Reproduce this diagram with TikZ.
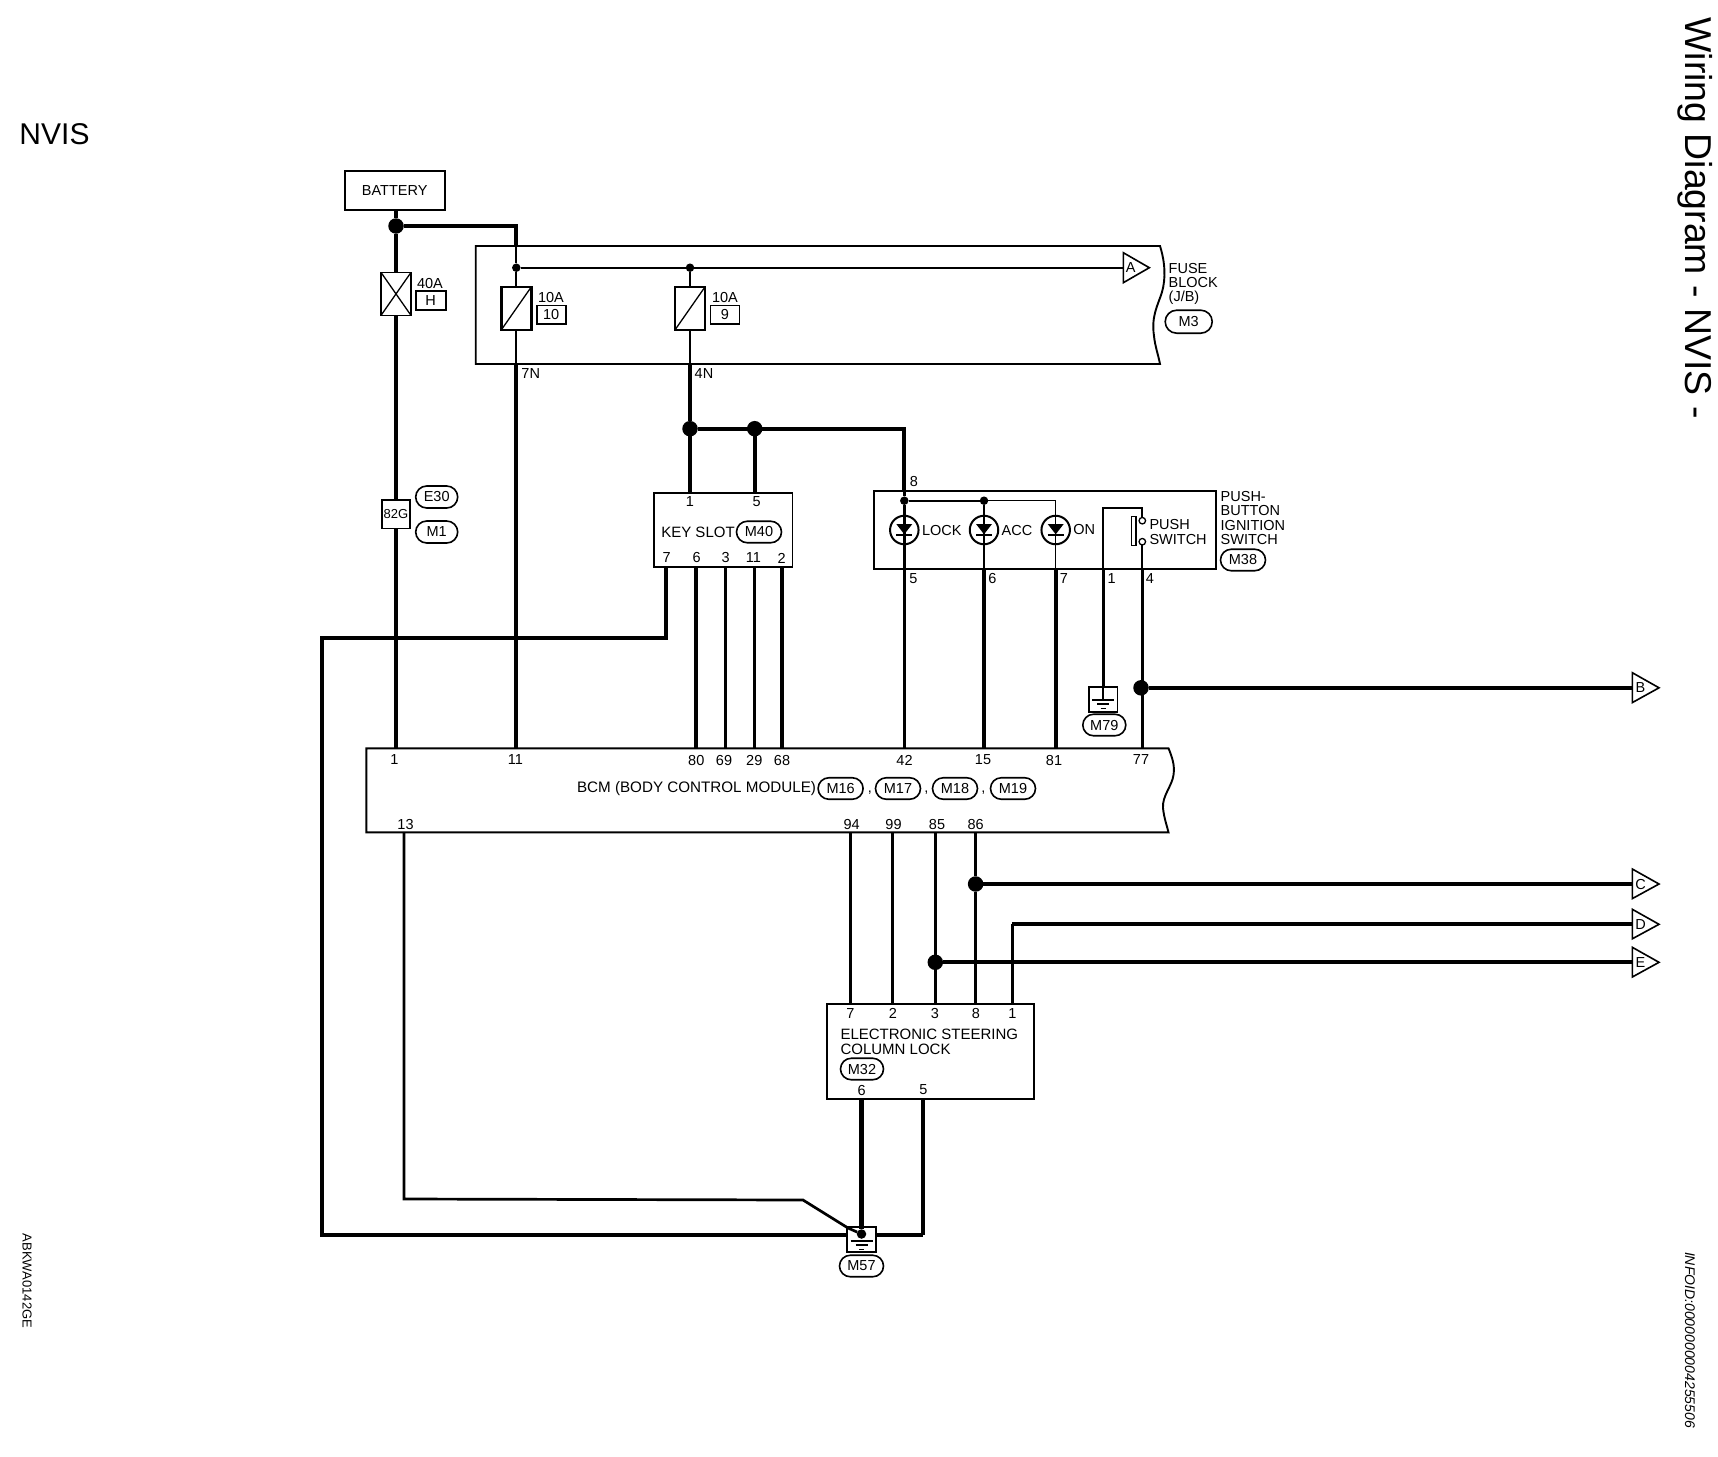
\documentclass[tikz,border=0pt]{standalone}
\usepackage{fontspec}
\setmainfont{Liberation Sans}
\usetikzlibrary{shapes.misc}
\tikzset{
  every node/.style={font=\fontsize{14.5}{14.2}\selectfont,inner sep=0pt,outer sep=0pt,align=left},
  wa/.style={line width=4.2pt,line join=miter},
  wb/.style={line width=3.4pt,line join=miter},
  wc/.style={line width=2.7pt,line join=miter},
  wd/.style={line width=2pt,line join=miter},
  we/.style={line width=1.4pt,line join=miter},
  boxa/.style={draw,line width=1.7pt,rectangle},
  outline/.style={draw,line width=1.9pt,line join=miter},
  conn/.style={draw,rounded rectangle,line width=1.6pt,minimum width=45pt,minimum height=21.5pt},
  fuse/.style={draw,rectangle,line width=2.4pt,minimum width=30pt,minimum height=43pt},
  fuseno/.style={draw,rectangle,line width=1.8pt,minimum width=29pt,minimum height=18.5pt},
  jbig/.style={circle,fill=black,minimum size=15.5pt},
  jsmall/.style={circle,fill=black,minimum size=8.5pt},
  ledc/.style={draw,circle,line width=2pt,minimum size=28.5pt},
  gbox/.style={draw,rectangle,line width=1.7pt,minimum width=28.5pt,minimum height=25pt},
  termc/.style={draw,circle,line width=1.3pt,minimum size=6.5pt},
  offpage/.style={draw,line width=1.6pt,fill=white,line join=miter},
}
\newcommand{\ledmark}[1]{\fill[shift={(#1)}] (-8,-6) -- (8,-6) -- (0,4.3) -- cycle;
  \draw[shift={(#1)},line width=2pt] (-8,5.2) -- (8,5.2);}
\newcommand{\gndmark}[1]{\draw[shift={(#1)},line width=1.7pt] (-11,0) -- (11,0) (-6,4.3) -- (6,4.3) (-2.5,8.6) -- (2.5,8.6);}
\begin{document}
\begin{tikzpicture}[x=1pt,y=-1pt]
\useasboundingbox (0,0) rectangle (1718,1456);
% ---- page texts
\node[font=\fontsize{30}{30}\selectfont,anchor=west] (nvis) at (19.5,134) {NVIS};
\node[font=\fontsize{37.4}{37}\selectfont,rotate=-90,anchor=base west] (title) at (1685,17.5) {Wiring Diagram - NVIS -};
\node[font=\fontsize{13}{13}\selectfont,rotate=-90] (abk) at (27,1281) {ABKWA0142GE};
\node[font=\fontsize{14}{14}\selectfont\itshape,rotate=-90] (info) at (1690,1340) {INFOID:0000000004255506};
% ---- boxes
\node[boxa,minimum width=100pt,minimum height=39.5pt] (batt) at (394.7,190.4) {BATTERY};
% fuse block
\coordinate (fbnw) at (475.7,246);
\coordinate (fbne) at (1160,246);
\coordinate (fbse) at (1160,364);
\coordinate (fbsw) at (475.7,364);
\draw[outline] (fbsw) -- (fbnw) -- (fbne)
   .. controls (1165,262) and (1166,278) .. (1162,292)
   .. controls (1158,305) and (1151,316) .. (1154,336)
   .. controls (1155,346) and (1158,354) .. (fbse) -- cycle;
\node[anchor=west] (fbl) at (1168.7,284) {FUSE\\BLOCK\\(J/B)};
\node[conn,minimum width=47pt,minimum height=23pt] (m3) at (1188.7,321.7) {M3};
\node[fuse,line width=1.8pt] (f40) at (396,293.9) {};
\draw[line width=1.3pt] (f40.north west) -- (f40.south east) (f40.north east) -- (f40.south west);
\node (t40) at (430,284) {40A};
\node[fuseno,minimum width=30pt] (h) at (430.7,300.5) {H};
\node[fuse] (f10) at (516.3,308.4) {};
\draw[line width=1.3pt] (f10.south west) -- (f10.north east);
\node (t10a) at (551,298) {10A};
\node[fuseno] (no10) at (551.2,314.8) {10};
\node[fuse] (f9) at (690,308.4) {};
\draw[line width=1.3pt] (f9.south west) -- (f9.north east);
\node (t9a) at (725,298) {10A};
\node[fuseno] (no9) at (725,314.8) {9};
\node (l7n) at (530.7,374) {7N};
\node (l4n) at (704,374) {4N};
% off page connectors
\coordinate (apin) at (1123.3,267.7);
\draw[offpage] (1123.3,252.7) -- (1149.3,267.7) -- (1123.3,282.7) -- cycle;
\node (ta) at (1130.7,268) {A};
\coordinate (bpin) at (1632.3,687.8);
\draw[offpage] (1632.3,672.7) -- (1659,687.8) -- (1632.3,702.6) -- cycle;
\node (tb) at (1640.5,688) {B};
\coordinate (cpin) at (1632.3,884);
\draw[offpage] (1632.3,869) -- (1659,884) -- (1632.3,898.6) -- cycle;
\node (tc) at (1640.5,884) {C};
\coordinate (dpin) at (1632.3,924.3);
\draw[offpage] (1632.3,909.3) -- (1659,924.3) -- (1632.3,938.8) -- cycle;
\node (td) at (1640.5,924.5) {D};
\coordinate (epin) at (1632.3,962.3);
\draw[offpage] (1632.3,947.3) -- (1659,962.3) -- (1632.3,977) -- cycle;
\node (te) at (1640.5,962.5) {E};
% splice
\node[draw,rectangle,line width=1.3pt,minimum width=28pt,minimum height=28.5pt,font=\fontsize{13}{13}\selectfont] (g82) at (396,514.3) {82G};
\node[conn,minimum width=42pt,minimum height=22pt] (e30) at (436.7,497) {E30};
\node[conn,minimum width=42pt,minimum height=22pt] (m1) at (436.7,532) {M1};
% key slot
\node[boxa,minimum width=138.3pt,minimum height=74pt] (ks) at (723.2,529.7) {};
\node (ks1) at (690,502) {1};
\node (ks5) at (756.7,502) {5};
\node[font=\fontsize{15}{15}\selectfont] (ksname) at (698,532) {KEY SLOT};
\node[conn] (m40) at (759,532) {M40};
\node (ks7) at (666.7,558) {7};
\node (ks6) at (696.7,558) {6};
\node (ks3) at (725.7,558) {3};
\node (ks11) at (753.3,558) {11};
\node (ks2) at (781.7,558) {2};
% push button
\node[boxa,minimum width=342.3pt,minimum height=78pt] (pb) at (1044.9,530) {};
\node (pb8) at (914,481.7) {8};
\node (pb5) at (913.3,579) {5};
\node (pb6) at (992.3,579) {6};
\node (pb7) at (1064,579) {7};
\node (pb1) at (1111.7,579) {1};
\node (pb4) at (1150,579) {4};
\node[anchor=west] (lock) at (922,530.5) {LOCK};
\node[anchor=west] (acc) at (1001.7,530.5) {ACC};
\node[anchor=west] (on) at (1073.3,530) {ON};
\node[anchor=west] (psw) at (1149.5,532) {PUSH\\SWITCH};
\node[anchor=west] (pbl) at (1220.7,518) {PUSH-\\BUTTON\\IGNITION\\SWITCH};
\node[conn] (m38) at (1243,560) {M38};
\node[ledc] (led1) at (904.3,530) {};
\node[ledc] (led2) at (984,530) {};
\node[ledc] (led3) at (1055.7,530) {};
\ledmark{led1}\ledmark{led2}\ledmark{led3}
\node[termc] (sw1) at (1142.3,520.7) {};
\node[termc] (sw2) at (1142.3,541.7) {};
\node[draw,rectangle,line width=1.3pt,minimum width=4.4pt,minimum height=28.5pt] (swbar) at (1133.8,530.9) {};
% BCM
\coordinate (bnw) at (366.3,748.3);
\coordinate (bne) at (1168.5,748.3);
\coordinate (bse) at (1168.5,832.3);
\coordinate (bsw) at (366.3,832.3);
\draw[outline] (bsw) -- (bnw) -- (bne)
   .. controls (1172,757) and (1175,765) .. (1173.5,775)
   .. controls (1172,786) and (1162,796) .. (1163,808)
   .. controls (1164,818) and (1167,826) .. (bse) -- cycle;
\node (b1) at (394.5,760) {1};
\node (b11) at (515.3,760) {11};
\node (b80) at (696.3,760) {80};
\node (b69) at (724,760) {69};
\node (b29) at (754.3,760) {29};
\node (b68) at (782,760) {68};
\node (b42) at (904.5,760) {42};
\node (b15) at (983,760) {15};
\node (b81) at (1054,760) {81};
\node (b77) at (1141,760) {77};
\node[anchor=east,font=\fontsize{15.2}{15}\selectfont] (bname) at (816,789) {BCM (BODY CONTROL MODULE)};
\node[conn] (m16) at (840.6,788.5) {M16};
\node (c1) at (870,793) {,};
\node[conn] (m17) at (898,788.5) {M17};
\node (c2) at (926.4,793) {,};
\node[conn] (m18) at (955,788.5) {M18};
\node (c3) at (983.4,793) {,};
\node[conn] (m19) at (1013,788.5) {M19};
\node (b13) at (405.5,824) {13};
\node (b94) at (851.6,824) {94};
\node (b99) at (893.5,824) {99};
\node (b85) at (937,824) {85};
\node (b86) at (975.6,824) {86};
% ESCL
\node[boxa,minimum width=207.3pt,minimum height=95pt] (sc) at (930.3,1051.5) {};
\node (sc7) at (850.3,1013) {7};
\node (sc2) at (893,1013) {2};
\node (sc3) at (935,1013) {3};
\node (sc8) at (976,1013) {8};
\node (sc1) at (1012.3,1013) {1};
\node[anchor=west,font=\fontsize{15}{14.4}\selectfont] (scname) at (840.5,1042) {ELECTRONIC STEERING\\COLUMN LOCK};
\node[conn,minimum width=43pt] (m32) at (862,1069) {M32};
\node (sc6) at (861.7,1090) {6};
\node (sc5) at (923.3,1090) {5};
% grounds
\node[gbox] (g79) at (1103.2,699.2) {};
\node[conn,minimum width=43pt] (m79) at (1104.3,725) {M79};
\coordinate (g79c) at (1103.2,700);
\gndmark{g79c}
\node[gbox] (g57) at (861.5,1239.5) {};
\node[conn,minimum width=44pt] (m57) at (861.5,1266) {M57};
\coordinate (g57c) at (861.5,1241);
\gndmark{g57c}
% ---- junctions
\node[jbig] (jbat) at (396,226) {};
\node[jsmall] (jb1) at (516.3,267.7) {};
\node[jsmall] (jb2) at (690,267.7) {};
\node[jbig] (j4n) at (690,428.7) {};
\node[jbig] (jks) at (754.7,428.7) {};
\node[jsmall] (jl1) at (904.3,500.7) {};
\node[jsmall] (jl2) at (984,500.7) {};
\node[jbig] (jb) at (1141,687.8) {};
\node[jbig] (jc) at (975.6,884) {};
\node[jbig] (je) at (935.3,962.3) {};
\node[jsmall,minimum size=9.5pt] (jg) at (861.5,1234) {};
% ---- named wire points
\coordinate (batb) at (396,210);
\coordinate (bcm1) at (396,748.3);
\coordinate (t516) at (516.3,246);
\coordinate (c516) at (516.3,226);
\coordinate (b516) at (516.3,364);
\coordinate (bcm11) at (516.3,748.3);
\coordinate (b689) at (690,364);
\coordinate (ks1t) at (690,492.7);
\coordinate (ks5t) at (754.7,492.7);
\coordinate (c904) at (904.3,428.7);
\coordinate (pb8t) at (904.3,491);
\coordinate (ks7b) at (665.7,566.7);
\coordinate (c7a) at (665.7,638);
\coordinate (c7b) at (322,638);
\coordinate (c7c) at (322,1235);
\coordinate (c5c) at (923.3,1235);
\coordinate (sc5b) at (923.3,1099);
\coordinate (sc6b) at (861.5,1099);
\coordinate (ks6b) at (695.7,566.7); \coordinate (bc80) at (695.7,748.3);
\coordinate (ks3b) at (725.7,566.7); \coordinate (bc69) at (725.7,748.3);
\coordinate (ks11b) at (754.3,566.7); \coordinate (bc29) at (754.3,748.3);
\coordinate (ks2b) at (782,566.7); \coordinate (bc68) at (782,748.3);
\coordinate (pb5b) at (904.3,569); \coordinate (bc42) at (904.3,748.3);
\coordinate (pb6b) at (984,569); \coordinate (bc15) at (984,748.3);
\coordinate (pb7b) at (1055.7,569); \coordinate (bc81) at (1055.7,748.3);
\coordinate (pb1b) at (1103.2,569);
\coordinate (pb4b) at (1142.3,569); \coordinate (bc77) at (1142.3,748.3);
\coordinate (sw3) at (1103.2,507.7); \coordinate (sw4) at (1142.3,507.7);
\coordinate (l1t) at (1055.7,500.7);
\coordinate (b13p) at (404,832.3); \coordinate (c13a) at (404,1199); \coordinate (c13b) at (803,1200); \coordinate (c13c) at (848,1228);
\coordinate (b94p) at (850.6,832.3); \coordinate (sc7t) at (850.6,1004);
\coordinate (b99p) at (892.4,832.3); \coordinate (sc2t) at (892.4,1004);
\coordinate (b85p) at (935.3,832.3); \coordinate (sc3t) at (935.3,1004);
\coordinate (b86p) at (975.6,832.3); \coordinate (sc8t) at (975.6,1004);
\coordinate (sc1t) at (1012.3,1004); \coordinate (c1d) at (1012.3,924.3);
% ---- wires
\draw[wa] (batb) -- (jbat) -- (f40.north);
\draw[wa] (f40.south) -- (g82.north);
\draw[wa] (g82.south) -- (bcm1);
\draw[wa] (jbat) -- (c516) -- (t516);
\draw[wd] (t516) -- (jb1) -- (f10.north);
\draw[wd] (f10.south) -- (b516);
\draw[wa] (b516) -- (bcm11);
\draw[wd] (jb1) -- (apin);
\draw[wd] (jb2) -- (f9.north);
\draw[wd] (f9.south) -- (b689);
\draw[wa] (b689) -- (j4n) -- (ks1t);
\draw[wa] (jks) -- (ks5t);
\draw[wa] (j4n) -- (c904) -- (pb8t);
\draw[wa] (ks7b) -- (c7a) -- (c7b) -- (c7c) -- (g57.west |- c7c);
\draw[wa] (g57.east |- c5c) -- (c5c);
\draw[wa] (c5c) -- (sc5b);
\draw[wa] (sc6b) -- (jg);
\draw[wa] (ks6b) -- (bc80);
\draw[wc] (ks3b) -- (bc69);
\draw[wc] (ks11b) -- (bc29);
\draw[wb] (ks2b) -- (bc68);
\draw[wc] (pb8t) -- (jl1) -- (pb5b);
\draw[wb] (pb5b) -- (bc42);
\draw[wd] (jl1) -- (jl2);
\draw[wc] (jl2) -- (pb6b);
\draw[wa] (pb6b) -- (bc15);
\draw[we] (jl2) -- (l1t) -- (pb7b);
\draw[wa] (pb7b) -- (bc81);
\draw[wb] (pb1b) -- (g79.north);
\draw[wd] (g79.north) -- (g79c);
\draw[wd] (pb1b) -- (sw3) -- (sw4) -- (sw1.north);
\draw[wd] (sw2.south) -- (pb4b);
\draw[wb] (pb4b) -- (bc77);
\draw[wa] (jb) -- (bpin);
\draw[wc] (b13p) -- (c13a) -- (c13b) -- (c13c) -- (jg);
\draw[wc] (b94p) -- (sc7t);
\draw[wc] (b99p) -- (sc2t);
\draw[wb] (b85p) -- (je) -- (sc3t);
\draw[wb] (b86p) -- (jc) -- (sc8t);
\draw[wa] (jc) -- (cpin);
\draw[wb] (sc1t) -- (c1d);
\draw[wa] (c1d) -- (dpin);
\draw[wa] (je) -- (epin);
\end{tikzpicture}
\end{document}
